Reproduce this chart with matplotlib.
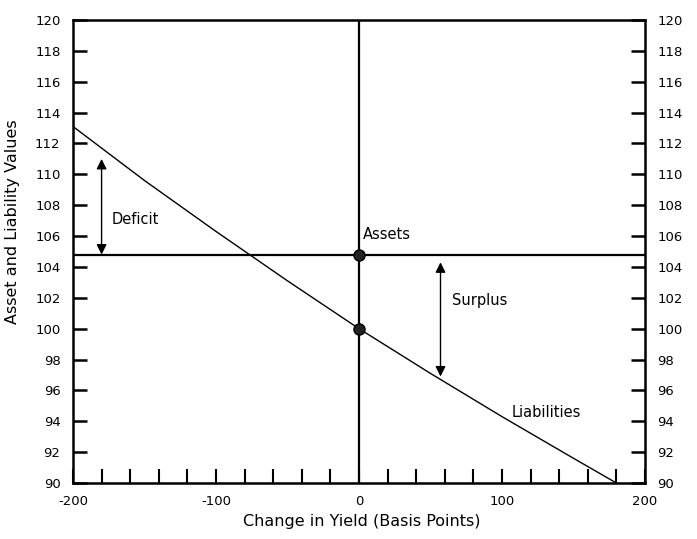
import numpy as np
import matplotlib.pyplot as plt
from matplotlib.ticker import MultipleLocator

plt.rcParams['font.family'] = ['DejaVu Sans']

# yield change (bp) and liability value
yield_bp = [-200, -150, -100, -50, 0, 50, 100, 150, 180]
liabilities = [113.1, 109.6, 106.3, 103.1, 100.0, 97.1, 94.3, 91.6, 90.0]
assets_value = 104.8
base_points = [104.8, 100.0]
deficit_span = [104.8, 111.0]
surplus_span = [104.3, 96.9]

fig = plt.figure(figsize=(6.97, 5.39), dpi=100)
ax = fig.add_axes([0.1047, 0.1039, 0.8207, 0.859])

ax.plot(yield_bp, liabilities, color='black', lw=1.0)
ax.axhline(assets_value, color='black', lw=1.6)
ax.axvline(0, color='black', lw=1.6)
ax.plot([0, 0], base_points, 'o', color='black', markersize=8,
        markerfacecolor='#222222', zorder=5)

arrow = dict(arrowstyle='<|-|>', color='black', lw=1.0,
             mutation_scale=15, shrinkA=0, shrinkB=0)
ax.annotate('', xy=(-180, deficit_span[1]), xytext=(-180, deficit_span[0]),
            arrowprops=arrow)
ax.annotate('', xy=(57, surplus_span[1]), xytext=(57, surplus_span[0]),
            arrowprops=arrow)

ax.text(-173, 107.1, 'Deficit', fontsize=10.5, va='center')
ax.text(65, 101.8, 'Surplus', fontsize=10.5, va='center')
ax.text(3, 106.1, 'Assets', fontsize=10.5, va='center')
ax.text(107, 94.6, 'Liabilities', fontsize=10.5, va='center')

ax.set_xlim(-200, 200)
ax.set_ylim(90, 120)
ax.xaxis.set_major_locator(MultipleLocator(100))
ax.xaxis.set_minor_locator(MultipleLocator(20))
ax.yaxis.set_major_locator(MultipleLocator(2))
ax.tick_params(axis='x', which='both', direction='in', length=10, width=1.5,
               top=False, pad=9, labelsize=9.5)
ax.tick_params(axis='y', which='both', direction='in', length=10, width=1.8,
               left=True, right=True, labelleft=True, labelright=True,
               pad=9, labelsize=9.5)
ax.xaxis.set_major_formatter(plt.FuncFormatter(lambda v, p: '%d' % v))

for s in ax.spines.values():
    s.set_linewidth(1.8)

ax.set_xlabel('Change in Yield (Basis Points)', fontsize=11.5)
ax.set_ylabel('Asset and Liability Values', fontsize=11.5)
ax.xaxis.set_label_coords(0.505, -0.066)
ax.yaxis.set_label_coords(-0.092, 0.565)

fig.savefig('out.png', dpi=100)
